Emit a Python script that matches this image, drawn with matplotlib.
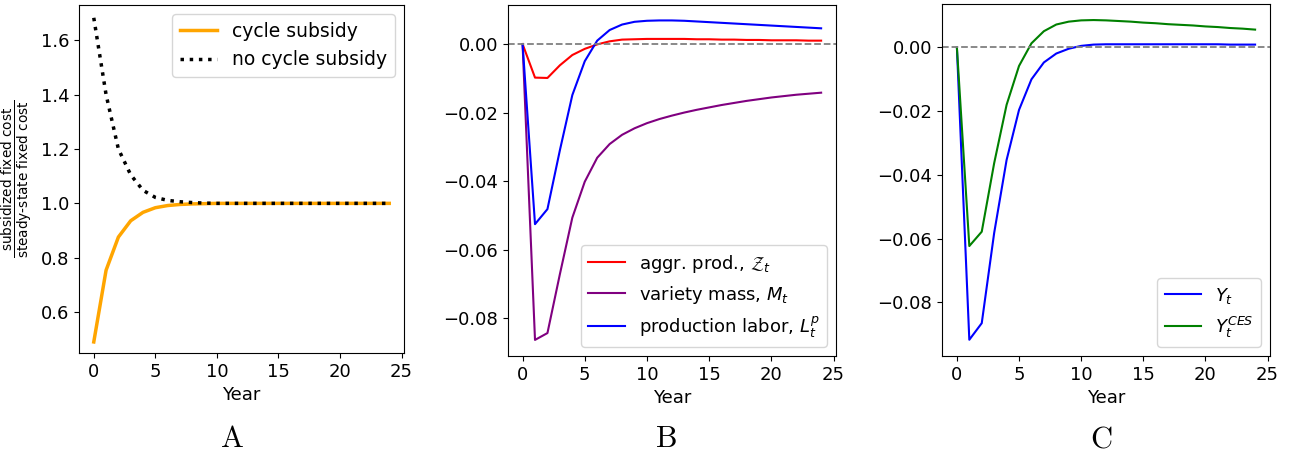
import numpy as np
import matplotlib
matplotlib.use("Agg")
import matplotlib.pyplot as plt

years = np.arange(25)

# panel A
cycle_subsidy = [0.49, 0.754, 0.876, 0.936, 0.967, 0.984, 0.992, 0.996, 0.998, 0.999,
                 1.0, 1.0, 1.0, 1.0, 1.0, 1.0, 1.0, 1.0, 1.0, 1.0, 1.0, 1.0, 1.0, 1.0, 1.0]
no_cycle_subsidy = [1.683, 1.40, 1.20, 1.105, 1.048, 1.022, 1.011, 1.006, 1.003, 1.001,
                    1.0, 1.0, 1.0, 1.0, 1.0, 1.0, 1.0, 1.0, 1.0, 1.0, 1.0, 1.0, 1.0, 1.0, 1.0]

# panel B
aggr_prod = [0.0, -0.0098, -0.0099, -0.0062, -0.0032, -0.0014, -0.0001, 0.0008, 0.0013, 0.0014,
             0.0015, 0.0015, 0.0015, 0.0015, 0.0014, 0.0014, 0.0013, 0.0013, 0.0012, 0.0012,
             0.0011, 0.0011, 0.0011, 0.001, 0.001]
variety_mass = [0.0, -0.0864, -0.0844, -0.0672, -0.0507, -0.0402, -0.0332, -0.0292, -0.0265, -0.0246,
                -0.0231, -0.0219, -0.0209, -0.0200, -0.0192, -0.0185, -0.0178, -0.0172, -0.0166, -0.0161,
                -0.0156, -0.0152, -0.0148, -0.0145, -0.0142]
prod_labor = [0.0, -0.0526, -0.0482, -0.031, -0.0149, -0.005, 0.001, 0.0041, 0.0057, 0.0065,
              0.0068, 0.0069, 0.0069, 0.0068, 0.0066, 0.0064, 0.0062, 0.006, 0.0058, 0.0056,
              0.0054, 0.0052, 0.005, 0.0048, 0.0046]

# panel C
output_y = [0.0, -0.0917, -0.0865, -0.0582, -0.0353, -0.0196, -0.0100, -0.0047, -0.0019, -0.0004,
            0.0005, 0.0009, 0.001, 0.001, 0.001, 0.001, 0.001, 0.001, 0.001, 0.001,
            0.001, 0.001, 0.0009, 0.0009, 0.0009]
output_ces = [0.0, -0.0623, -0.0578, -0.0363, -0.018, -0.0058, 0.0013, 0.0051, 0.0072, 0.0081,
              0.0085, 0.0086, 0.0085, 0.0083, 0.0081, 0.0078, 0.0076, 0.0073, 0.0071, 0.0069,
              0.0066, 0.0064, 0.0061, 0.0059, 0.0056]

plt.rcParams['font.size'] = 13

fig = plt.figure(figsize=(12.95, 4.57), dpi=100)
axA = fig.add_axes([0.061, 0.228, 0.251, 0.761])
axB = fig.add_axes([0.392, 0.221, 0.2536, 0.768])
axC = fig.add_axes([0.7274, 0.221, 0.2533, 0.770])

axA.plot(years, cycle_subsidy, color="orange", lw=2.5, label="cycle subsidy")
axA.plot(years, no_cycle_subsidy, color="black", lw=2.5, ls=":", label="no cycle subsidy")
axA.set_ylabel(r'$\frac{\text{subsidized fixed cost}}{\text{steady-state fixed cost}}$', fontsize=14)
axA.set_ylim(0.45, 1.73)
axA.legend(loc="upper right", fontsize=13.5)

axB.plot(years, aggr_prod, color="red", lw=1.5, label=r'aggr. prod., $\mathcal{Z}_t$')
axB.plot(years, variety_mass, color="purple", lw=1.5, label=r'variety mass, $M_t$')
axB.plot(years, prod_labor, color="blue", lw=1.5, label=r'production labor, $L_t^p$')
axB.axhline(0, color="gray", ls="--", lw=1.3)
axB.set_ylim(-0.0911, 0.0114)
axB.legend(loc="lower right")

axC.plot(years, output_y, color="blue", lw=1.5, label=r'$Y_t$')
axC.plot(years, output_ces, color="green", lw=1.5, label=r'$Y_t^{CES}$')
axC.axhline(0, color="gray", ls="--", lw=1.3)
axC.set_ylim(-0.0968, 0.0136)
axC.legend(loc="lower right")

for ax in (axA, axB, axC):
    ax.set_xlim(-1.2, 25.2)
    ax.set_xticks([0, 5, 10, 15, 20, 25])
    ax.set_xlabel("Year")

for x, lab in [(0.179, "A"), (0.514, "B"), (0.850, "C")]:
    fig.text(x, 0.04, r'$\mathrm{%s}$' % lab, fontsize=22, ha="center",
             va="center", math_fontfamily="cm")

fig.savefig("out.png", dpi=100)
